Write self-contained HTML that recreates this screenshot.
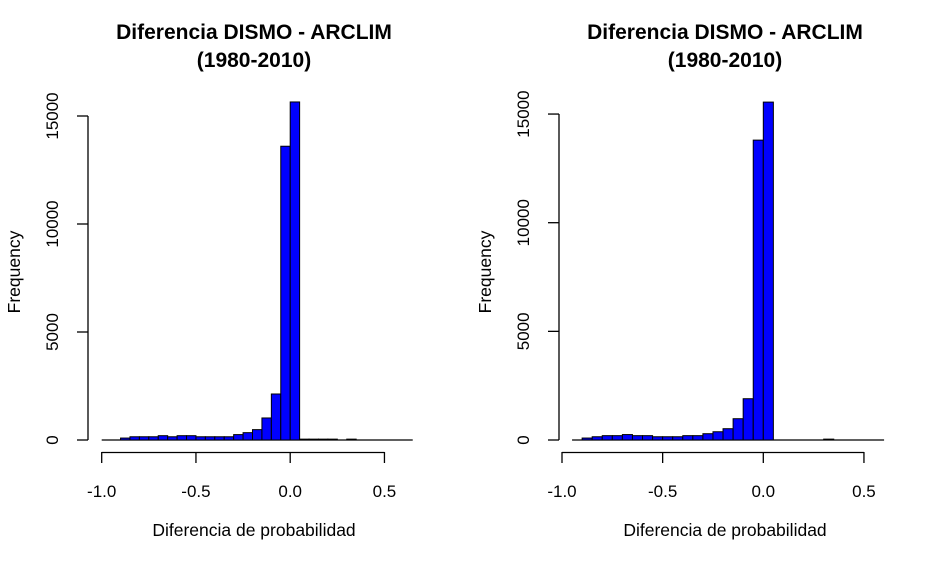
<!DOCTYPE html>
<html><head><meta charset="utf-8"><style>
body{margin:0;background:#fff;}
svg{display:block;font-family:"Liberation Sans",Arial,sans-serif;}
</style></head><body>
<svg id="c" width="942" height="564" viewBox="0 0 942 564"></svg>
<script>
const binWidth = 0.05;
const leftStart = -1.0;
const rightStart = -0.95;
const leftCounts = [0,0,90,150,150,150,200,150,200,200,150,150,150,150,250,340,480,1020,2130,13600,15650,40,40,40,40,0,40,0,0,0,0,0,0];
const rightCounts = [0,90,150,200,200,250,200,200,150,150,150,200,200,290,380,520,980,1900,13800,15550,0,0,0,0,0,40,0,0,0,0,0];
const xTicks = [-1.0,-0.5,0.0,0.5];
const xTickLabels = ["-1.0","-0.5","0.0","0.5"];
const yTicks = [0,5000,10000,15000];
const yTickLabels = ["0","5000","10000","15000"];

const svg = document.getElementById('c');
const NS = 'http://www.w3.org/2000/svg';
function mk(tag, attrs, parent){const e=document.createElementNS(NS,tag);for(const k in attrs)e.setAttribute(k,attrs[k]);(parent||svg).appendChild(e);return e;}

function panel(cfg, counts, start, id){
  const g = mk('g',{});
  
  
  const xs = v => cfg.x0 + (v - (-1)) * cfg.xk;
  const ys = v => 440 - v * cfg.yk;
  const t = mk('text',{x:cfg.tx,y:39,'text-anchor':'middle','font-size':'21','font-weight':'bold'},g);
  t.textContent='Diferencia DISMO - ARCLIM';
  
  
  const t2 = mk('text',{x:cfg.tx,y:67,'text-anchor':'middle','font-size':'21','font-weight':'bold'},g);
  t2.textContent='(1980-2010)';
  
  
  const bl = mk('line',{x1:xs(start),x2:xs(start+counts.length*binWidth),y1:440,y2:440,stroke:'#000','stroke-width':1.2},g);
  
  
  counts.forEach((c,i)=>{
    if(c<=0) return;
    const a = start + i*binWidth, b = a + binWidth;
    const x1 = xs(a), x2 = xs(b), y = ys(c);
    const r = mk('rect',{x:x1,y:y,width:x2-x1,height:440-y,fill:'#0000ff',stroke:'#000','stroke-width':1},g);
    
    
  });
  const xa = mk('g',{},g);
  
  
  mk('line',{x1:xs(xTicks[0]),x2:xs(xTicks[xTicks.length-1]),y1:452.5,y2:452.5,stroke:'#000','stroke-width':1.3},xa);
  xTicks.forEach((v,i)=>{
    mk('line',{x1:xs(v),x2:xs(v),y1:452,y2:463,stroke:'#000','stroke-width':1.3},xa);
    const l = mk('text',{x:xs(v),y:497,'text-anchor':'middle','font-size':'17'},xa);
    l.textContent = xTickLabels[i];
    
    
  });
  const xt = mk('text',{x:cfg.tx,y:536,'text-anchor':'middle','font-size':'17.5'},g);
  xt.textContent='Diferencia de probabilidad';
  
  
  const ya = mk('g',{},g);
  
  
  mk('line',{x1:cfg.ax,x2:cfg.ax,y1:ys(yTicks[0]),y2:ys(yTicks[yTicks.length-1]),stroke:'#000','stroke-width':1.3},ya);
  yTicks.forEach((v,i)=>{
    mk('line',{x1:cfg.ax-11,x2:cfg.ax,y1:ys(v),y2:ys(v),stroke:'#000','stroke-width':1.3},ya);
    const l = mk('text',{x:0,y:0,'text-anchor':'middle','font-size':'17',transform:`translate(${cfg.ax-30},${ys(v)}) rotate(-90)`},ya);
    l.textContent = yTickLabels[i];
    
    
  });
  const yt = mk('text',{x:0,y:0,'text-anchor':'middle','font-size':'17.5',transform:`translate(${cfg.ax-68},272) rotate(-90)`},g);
  yt.textContent='Frequency';
  
  
}
panel({x0:101.7,xk:188.5,yk:0.0216,ax:88,tx:254}, leftCounts, leftStart, 'left');
panel({x0:562,xk:201.3,yk:0.02173,ax:559,tx:725}, rightCounts, rightStart, 'right');
</script>
</body></html>
